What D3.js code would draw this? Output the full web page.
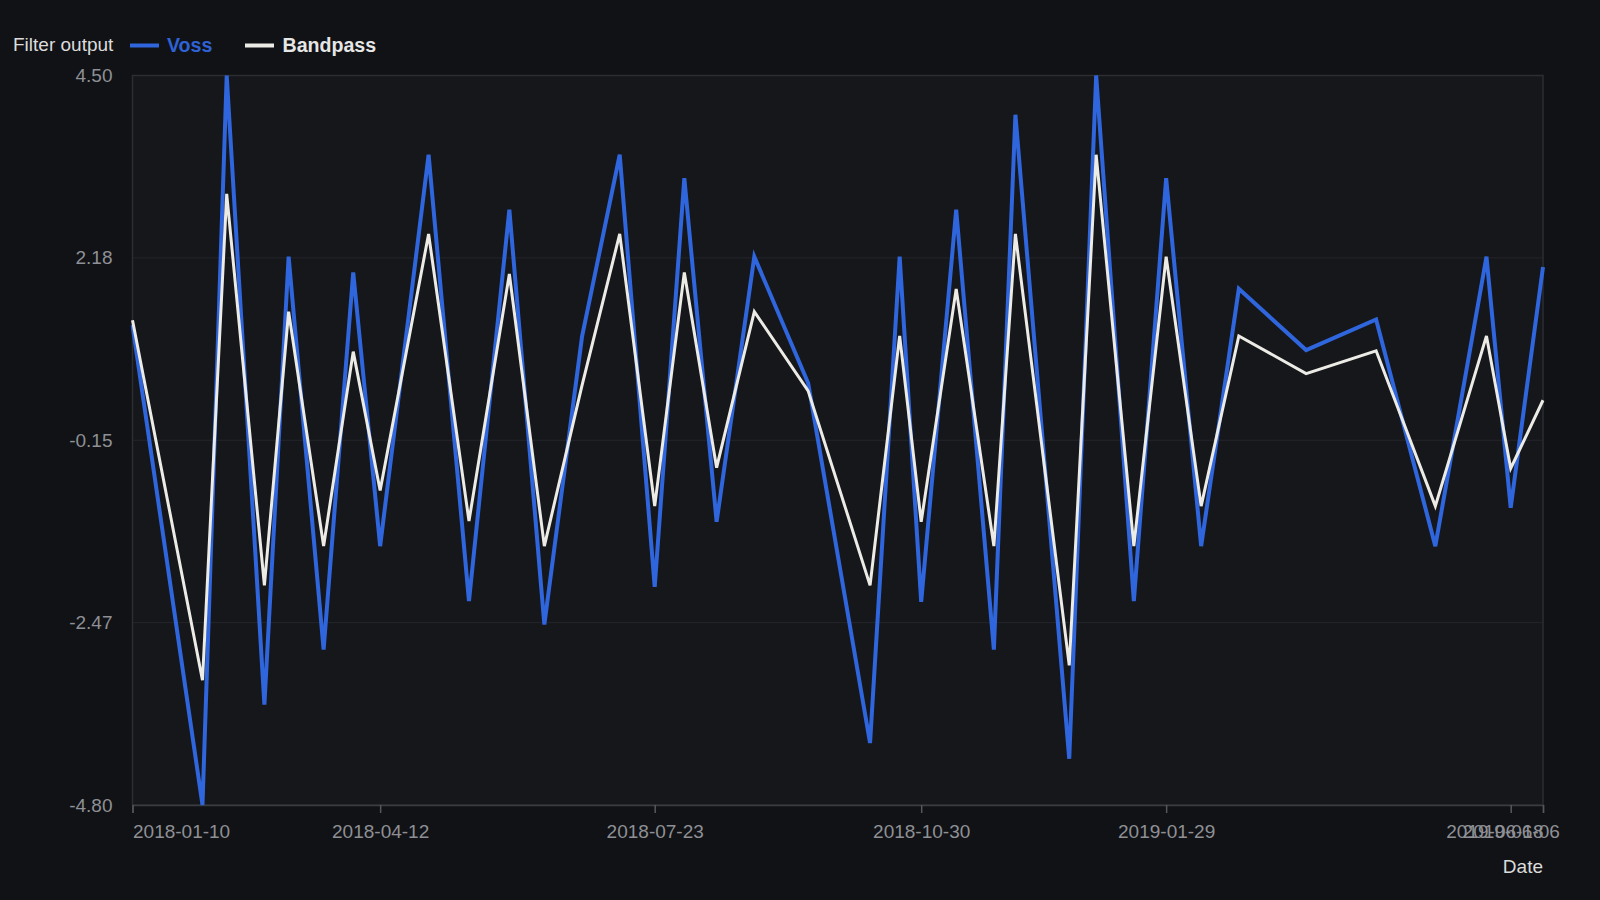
<!DOCTYPE html>
<html lang="en">
  <head>
    <meta charset="utf-8">
    <title>Filter output</title>
    <style type="text/css">
      html, body{
        margin: 0;
        padding: 0;
        background-color: #111215;
      }
      svg{
        display: block;
        font-family: "Liberation Sans", Arial, sans-serif;
      }
      .tick text{
        font-size: 19px;
        fill: #8e9095;
      }
    </style>
  </head>
  <body>
    <div id='chart'></div>

    <script src="https://d3js.org/d3.v7.min.js"></script>
    <script type="text/javascript">

      // data
      const dates = ['2018-01-10','2018-02-05','2018-02-14','2018-02-28','2018-03-09','2018-03-22','2018-04-02',
        '2018-04-12','2018-04-30','2018-05-15','2018-05-30','2018-06-12','2018-06-26','2018-07-10',
        '2018-07-23','2018-08-03','2018-08-15','2018-08-29','2018-09-18','2018-10-11','2018-10-22',
        '2018-10-30','2018-11-12','2018-11-26','2018-12-04','2018-12-24','2019-01-03','2019-01-17',
        '2019-01-29','2019-02-11','2019-02-25','2019-03-22','2019-04-17','2019-05-09','2019-05-28',
        '2019-06-06','2019-06-18'];

      const voss = [1.32,-4.80,4.50,-3.52,2.19,-2.82,1.99,
        -1.50,3.49,-2.20,2.79,-2.50,1.17,3.49,
        -2.02,3.19,-1.19,2.19,0.58,-4.01,2.19,
        -2.21,2.79,-2.82,4.00,-4.21,4.50,-2.20,
        3.19,-1.50,1.78,1.00,1.39,-1.50,2.19,
        -1.01,2.06];

      const bandpass = [1.38,-3.21,2.99,-2.00,1.49,-1.50,0.98,
        -0.79,2.48,-1.18,1.97,-1.50,0.55,2.48,
        -0.99,1.99,-0.50,1.49,0.48,-2.00,1.18,
        -1.19,1.78,-1.50,2.48,-3.02,3.49,-1.50,
        2.19,-0.99,1.18,0.70,0.99,-0.99,1.18,
        -0.51,0.36];

      const xTicks = ['2018-01-10','2018-04-12','2018-07-23','2018-10-30','2019-01-29','2019-06-06','2019-06-18'];
      const yTicks = [-4.80,-2.475,-0.15,2.175,4.50];
      const yTickLabels = ['-4.80','-2.47','-0.15','2.18','4.50'];

      const W = 1600, H = 900;
      const m = {left: 132.5, right: 57, top: 75.5, bottom: 95};
      const w = W - m.left - m.right;
      const h = H - m.top - m.bottom;

      const vossColor = '#2f66dd';
      const bandColor = '#ecebe6';

      const parse = d3.timeParse('%Y-%m-%d');
      const xDates = dates.map(parse);

      const scaleX = d3.scaleTime().domain(d3.extent(xDates)).range([0, w]);
      const scaleY = d3.scaleLinear().domain([-4.80, 4.50]).range([h, 0]);

      const svg = d3.select('#chart').append('svg').attr('width', W).attr('height', H);

      const g = svg.append('g').attr('transform', 'translate(' + m.left + ',' + m.top + ')');

      g.append('rect').attr('width', w).attr('height', h).attr('fill', '#15171b');

      // grid
      g.selectAll('line.grid').data(yTicks.slice(1, -1)).enter().append('line')
          .attr('class', 'grid')
          .attr('x1', 0).attr('x2', w)
          .attr('y1', d => scaleY(d)).attr('y2', d => scaleY(d))
          .attr('stroke', '#24262b').attr('stroke-width', 1);

      g.append('rect').attr('width', w).attr('height', h)
          .attr('fill', 'none').attr('stroke', '#2c2e33').attr('stroke-width', 1.5);

      // axes
      const xAxis = d3.axisBottom(scaleX).tickValues(xTicks.map(parse))
          .tickFormat(d3.timeFormat('%Y-%m-%d')).tickSize(8).tickPadding(12);
      const gx = g.append('g').attr('transform', 'translate(0,' + h + ')').call(xAxis);
      gx.select('.domain').attr('stroke', '#3a3c42').attr('stroke-width', 1.5);
      gx.selectAll('.tick line').attr('stroke', '#55575c').attr('stroke-width', 1.5);
      gx.selectAll('.tick text').attr('text-anchor', (d, i, n) => i === 0 ? 'start' : (i === n.length - 1 ? 'end' : 'middle'));

      const yAxis = d3.axisLeft(scaleY).tickValues(yTicks)
          .tickFormat((d, i) => yTickLabels[i]).tickSize(0).tickPadding(20);
      const gy = g.append('g').call(yAxis);
      gy.select('.domain').remove();

      // lines
      const clip = svg.append('clipPath').attr('id', 'clip').append('rect')
          .attr('x', -2).attr('y', -2).attr('width', w + 4).attr('height', h + 4);

      const line = d3.line().x((d, i) => scaleX(xDates[i])).y(d => scaleY(d));

      g.append('path').datum(voss).attr('d', line)
          .attr('fill', 'none').attr('stroke', vossColor).attr('stroke-width', 4)
          .attr('clip-path', 'url(#clip)');
      g.append('path').datum(bandpass).attr('d', line)
          .attr('fill', 'none').attr('stroke', bandColor).attr('stroke-width', 3)
          .attr('clip-path', 'url(#clip)');

      // axis title
      svg.append('text').text('Date').attr('x', m.left + w).attr('y', 873)
          .attr('text-anchor', 'end').style('font-size', '19px').style('fill', '#dcdcdc');

      // legend
      const lg = svg.append('g');
      lg.append('text').text('Filter output').attr('x', 13).attr('y', 51)
          .style('font-size', '19px').style('fill', '#dcdcdc');
      lg.append('line').attr('x1', 130).attr('x2', 159).attr('y1', 45.5).attr('y2', 45.5)
          .attr('stroke', vossColor).attr('stroke-width', 4);
      lg.append('text').text('Voss').attr('x', 167).attr('y', 51.5)
          .style('font-size', '19.6px').style('font-weight', 'bold').style('fill', '#2e62d6');
      lg.append('line').attr('x1', 245).attr('x2', 274).attr('y1', 45.5).attr('y2', 45.5)
          .attr('stroke', bandColor).attr('stroke-width', 4);
      lg.append('text').text('Bandpass').attr('x', 282.5).attr('y', 51.5)
          .style('font-size', '19.6px').style('font-weight', 'bold').style('fill', '#e6e6e6');

    </script>
  </body>
</html>
